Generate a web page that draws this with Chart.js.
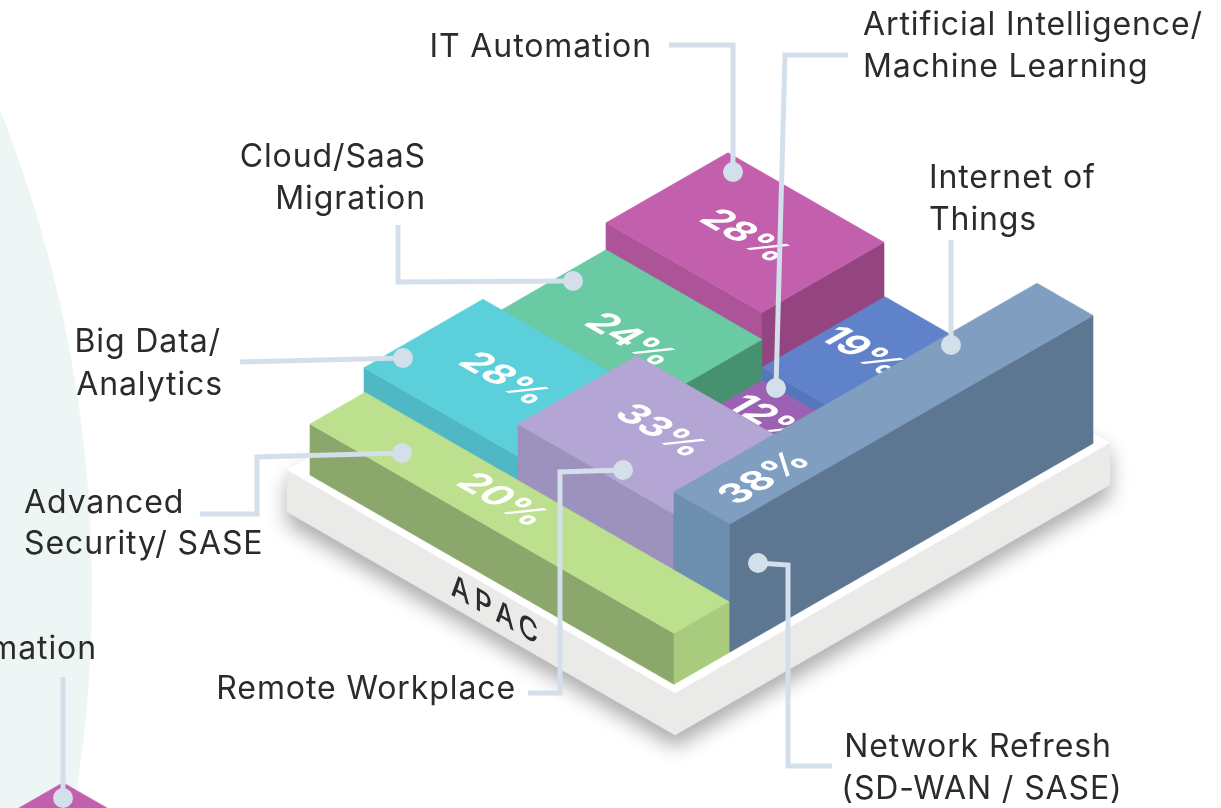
<!DOCTYPE html>
<html>
<head>
<meta charset="utf-8">
<title>APAC</title>
<script src="https://cdn.jsdelivr.net/npm/chart.js@4/dist/chart.umd.js"></script>
<style>
  html, body { margin: 0; padding: 0; background: #fff; overflow: hidden; }
  #wrap { width: 1221px; height: 808px; }
</style>
</head>
<body>
<div id="wrap"><canvas id="chart"></canvas></div>
<script>
// block data, back to front
const categories = ['IT Automation', 'Internet of Things', 'Cloud/SaaS Migration', 'Artificial Intelligence/Machine Learning', 'Big Data/Analytics', 'Remote Workplace', 'Network Refresh (SD-WAN / SASE)', 'Advanced Security/ SASE'];
const shareValues = [28, 19, 24, 12, 28, 33, 38, 20];
const blockHeights = [82, 27, 55, 14, 74, 106, 128, 51];

// footprint of each block on the plate
const uStart = [0, 156, 0, 156, -2, 152, 308, 0];
const uEnd = [156, 308, 156, 308, 152, 308, 364, 364];
const vStart = [296, 296, 175, 175, 56, 56, 56, 0];
const vEnd = [418, 419, 296, 296, 175, 175, 419, 55];

const topColors = ['#c260ae', '#6082ca', '#69caa3', '#9b62b4', '#5bd0da', '#b3a5d4', '#7f9ec0', '#bde08f'];
const leftColors = ['#ad5499', '#5676bc', '#5cb491', '#8a56a2', '#50b8c5', '#9d92bd', '#6c8eaf', '#8ba76b'];
const rightColors = ['#94457f', '#4c689f', '#46916f', '#74488a', '#43a0ab', '#8a80a8', '#5d7692', '#a9cb7e'];

// where each percentage sits, and which way it runs
const labelX = [745, 862, 630, 769, 504, 660, 765, 502];
const labelY = [236, 352, 340, 420, 379, 431, 478, 500];
const labelAlongV = [false, false, false, false, false, false, true, false];

// callouts: text lines and leader paths
const calloutLines = [
  { text: 'IT Automation', x: 652, y: 47, align: 'right' },
  { text: 'Artificial Intelligence/', x: 863, y: 25, align: 'left' },
  { text: 'Machine Learning', x: 863, y: 67, align: 'left' },
  { text: 'Cloud/SaaS', x: 426, y: 157, align: 'right' },
  { text: 'Migration', x: 426, y: 199, align: 'right' },
  { text: 'Internet of', x: 929, y: 178, align: 'left' },
  { text: 'Things', x: 929, y: 220, align: 'left' },
  { text: 'Big Data/', x: 221, y: 342, align: 'right' },
  { text: 'Analytics', x: 223, y: 385, align: 'right' },
  { text: 'Advanced', x: 24, y: 503, align: 'left' },
  { text: 'Security/ SASE', x: 24, y: 544, align: 'left' },
  { text: 'Remote Workplace', x: 516, y: 689, align: 'right' },
  { text: 'Network Refresh', x: 978, y: 747, align: 'center' },
  { text: '(SD-WAN / SASE)', x: 982, y: 789, align: 'center' },
  { text: 'IT Automation', x: 97, y: 649, align: 'right' }
];
const leaders = [
  [[669, 45], [733, 45], [733, 172]],
  [[848, 55], [785, 55], [776, 388]],
  [[951, 240], [951, 345]],
  [[398, 225], [398, 282], [573, 281]],
  [[240, 362], [403, 358]],
  [[200, 514], [257, 514], [257, 457], [402, 453]],
  [[528, 693], [560, 693], [560, 472], [623, 470]],
  [[832, 766], [788, 766], [788, 565], [758, 563]],
  [[63, 677], [63, 798]]
];

// plate, and the corner of the next region's block at bottom left
const plate = { uMin: -16, uMax: 372, vMin: -7, vMax: 428, depth: 42 };
const neighbour = { uMin: 144, uMax: 344, vMin: -591, vMax: -391 };

function iso(u, v, h) {
  return { x: 310 + u + v, y: 475 + 0.575 * (u - v) - h };
}

function face(points, color, extra) {
  return Object.assign({
    data: points,
    polygon: true,
    polygonColor: color,
    showLine: false,
    pointRadius: 0
  }, extra || {});
}

// painter's order: first pushed is drawn first
const layers = [];

layers.push(face([
  iso(plate.uMin, plate.vMin, 0), iso(plate.uMin, plate.vMin, -plate.depth),
  iso(plate.uMax, plate.vMin, -plate.depth), iso(plate.uMax, plate.vMax, -plate.depth),
  iso(plate.uMax, plate.vMax, 0), iso(plate.uMin, plate.vMax, 0)
], '#eaeae8', { polygonShadow: true }));
layers.push(face([
  iso(plate.uMin, plate.vMin, 0), iso(plate.uMax, plate.vMin, 0),
  iso(plate.uMax, plate.vMax, 0), iso(plate.uMin, plate.vMax, 0)
], '#ffffff'));
layers.push(face([
  iso(neighbour.uMin, neighbour.vMin, 0), iso(neighbour.uMax, neighbour.vMin, 0),
  iso(neighbour.uMax, neighbour.vMax, 0), iso(neighbour.uMin, neighbour.vMax, 0)
], topColors[0]));

categories.forEach((name, i) => {
  const h = blockHeights[i];
  const uS = uStart[i], uE = uEnd[i], vS = vStart[i], vE = vEnd[i];
  layers.push(face([iso(uS, vS, h), iso(uE, vS, h), iso(uE, vS, 0), iso(uS, vS, 0)], leftColors[i]));
  layers.push(face([iso(uE, vS, h), iso(uE, vE, h), iso(uE, vE, 0), iso(uE, vS, 0)], rightColors[i]));
  layers.push(face([iso(uS, vS, h), iso(uE, vS, h), iso(uE, vE, h), iso(uS, vE, h)], topColors[i], {
    label: shareValues[i] + '%',
    labelPos: { x: labelX[i], y: labelY[i] },
    labelAlongV: labelAlongV[i],
    categoryName: name
  }));
});

leaders.forEach(path => {
  layers.push({
    data: path.map(p => ({ x: p[0], y: p[1] })),
    showLine: true,
    borderColor: '#d3dfea',
    borderWidth: 5,
    borderJoinStyle: 'miter',
    borderCapStyle: 'butt',
    tension: 0,
    backgroundColor: '#d3dfea',
    pointBackgroundColor: '#d3dfea',
    pointBorderWidth: 0,
    pointRadius: ctx => (ctx.dataIndex === path.length - 1 ? 10 : 0)
  });
});

// chart.js draws low order last
layers.forEach((ds, i) => { ds.order = layers.length - i; });

const polygonPlugin = {
  id: 'polygonPlugin',
  beforeDraw(chart) {
    // pale circle behind the left side
    const ctx = chart.ctx, xs = chart.scales.x, ys = chart.scales.y;
    ctx.save();
    ctx.fillStyle = '#eef5f5';
    ctx.beginPath();
    ctx.arc(xs.getPixelForValue(-1206), ys.getPixelForValue(590), 1298, 0, Math.PI * 2);
    ctx.fill();
    ctx.restore();
  },
  beforeDatasetDraw(chart, args) {
    const ds = chart.data.datasets[args.index];
    if (!ds.polygon) return;
    const ctx = chart.ctx;
    const pts = args.meta.data;
    ctx.save();
    if (ds.polygonShadow) {
      ctx.shadowColor = 'rgba(0,0,0,0.33)';
      ctx.shadowBlur = 20;
      ctx.shadowOffsetY = 12;
    }
    ctx.fillStyle = ds.polygonColor;
    ctx.strokeStyle = ds.polygonColor;
    ctx.lineWidth = 0.6;
    ctx.beginPath();
    pts.forEach((p, i) => (i ? ctx.lineTo(p.x, p.y) : ctx.moveTo(p.x, p.y)));
    ctx.closePath();
    ctx.fill();
    ctx.shadowColor = 'transparent';
    ctx.stroke();
    if (ds.label) {
      const px = chart.scales.x.getPixelForValue(ds.labelPos.x);
      const py = chart.scales.y.getPixelForValue(ds.labelPos.y);
      if (ds.labelAlongV) ctx.transform(0.866, -0.5, 0.866, 0.5, px, py);
      else ctx.transform(0.866, 0.5, -0.866, 0.5, px, py);
      ctx.fillStyle = '#ffffff';
      ctx.font = '700 38px Inter';
      ctx.textAlign = 'center';
      ctx.textBaseline = 'middle';
      ctx.fillText(ds.label, 0, 0);
    }
    ctx.restore();
  },
  afterDatasetsDraw(chart) {
    const ctx = chart.ctx, xs = chart.scales.x, ys = chart.scales.y;
    ctx.save();
    ctx.fillStyle = '#2b2b2b';
    ctx.font = '400 32px Inter';
    ctx.letterSpacing = '0.9px';
    ctx.textBaseline = 'middle';
    calloutLines.forEach(l => {
      ctx.textAlign = l.align;
      ctx.fillText(l.text, xs.getPixelForValue(l.x), ys.getPixelForValue(l.y));
    });
    // region name on the plate edge
    ctx.transform(0.866, 0.5, 0, 1, xs.getPixelForValue(497), ys.getPixelForValue(612));
    ctx.font = '500 31px Inter';
    ctx.letterSpacing = '6px';
    ctx.textAlign = 'center';
    ctx.fillText('APAC', 0, 0);
    ctx.restore();
  }
};

new Chart(document.getElementById('chart').getContext('2d'), {
  type: 'line',
  data: { datasets: layers },
  options: {
    responsive: true,
    maintainAspectRatio: false,
    animation: false,
    layout: { padding: 0, autoPadding: false },
    plugins: {
      legend: { display: false },
      tooltip: { enabled: false }
    },
    scales: {
      x: { type: 'linear', min: 0, max: 1221, display: false },
      y: { type: 'linear', min: 0, max: 808, reverse: true, display: false }
    }
  },
  plugins: [polygonPlugin]
});
</script>
</body>
</html>
